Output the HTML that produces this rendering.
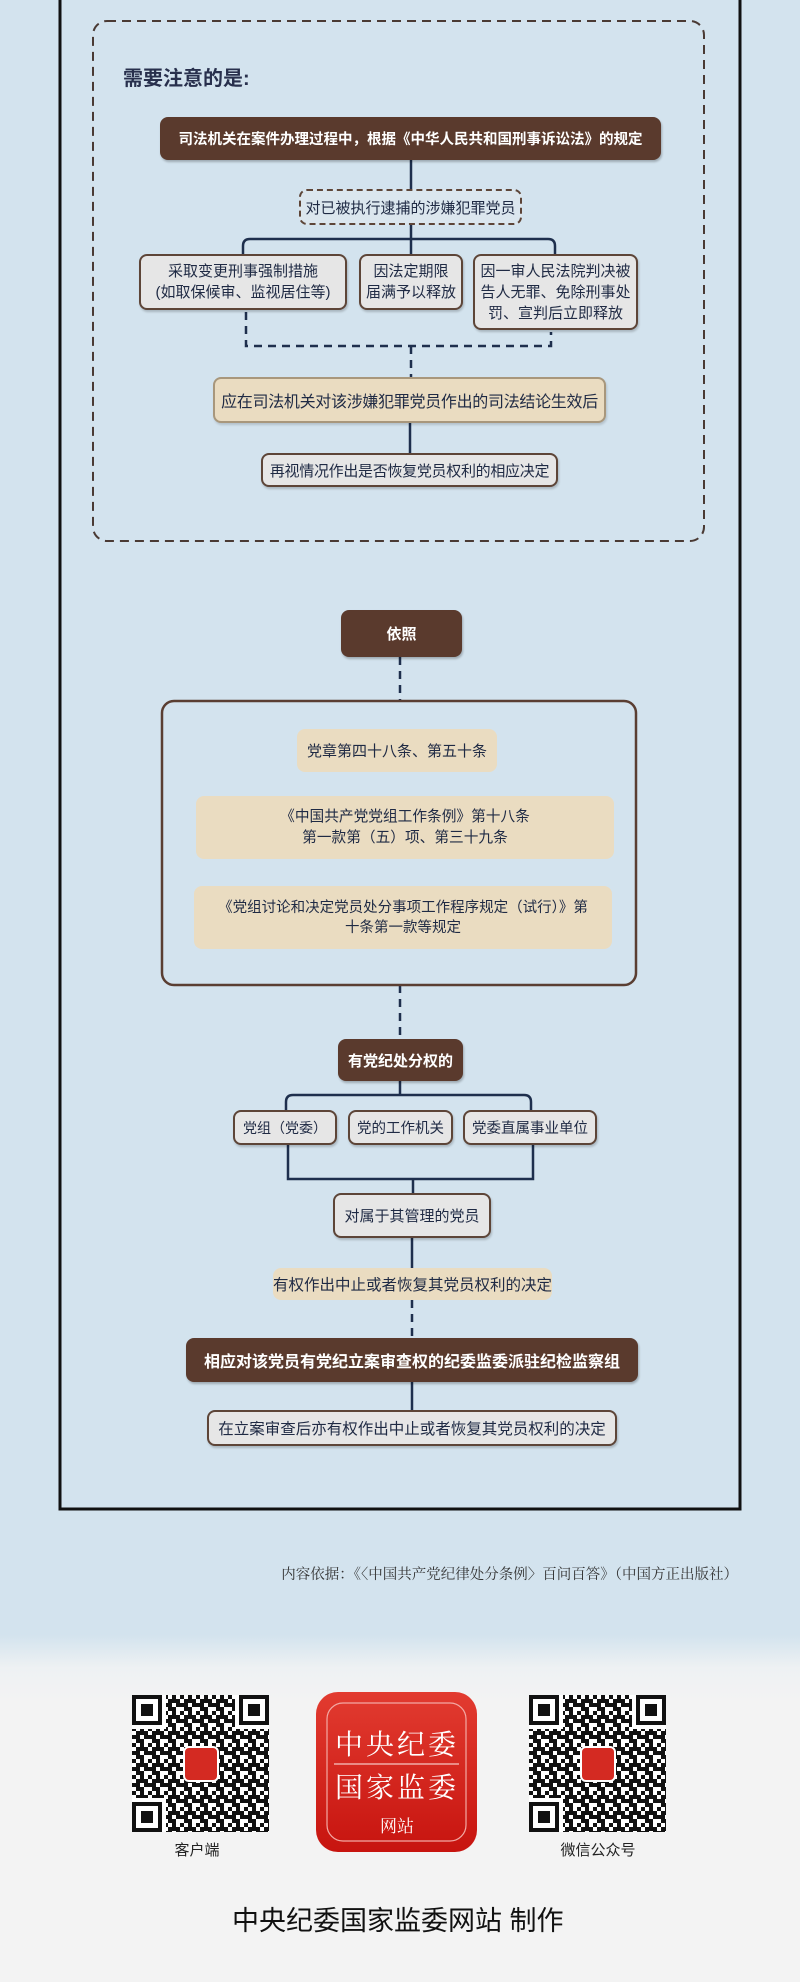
<!DOCTYPE html>
<html><head><meta charset="utf-8">
<style>
*{margin:0;padding:0;box-sizing:border-box}
body{width:800px;height:1982px;position:relative;overflow:hidden;font-family:"Liberation Sans","Noto Sans CJK SC",sans-serif;
background:linear-gradient(to bottom,#d3e3ee 0px,#d3e3ee 1635px,#eef1f3 1668px,#f3f3f3 1700px,#f3f3f3 1982px);color:#1f2a44}
.b{position:absolute;display:flex;align-items:center;justify-content:center;text-align:center;border-radius:8px;white-space:nowrap}
.br{background:#5a3a2d;color:#fff;font-weight:bold;box-shadow:1px 2px 2px rgba(0,0,0,.25)}
.gr{background:#e6e6e6;border:2px solid #5d4538;box-shadow:1px 2px 2px rgba(0,0,0,.2)}
.tn{background:#eadcc1;}
.tb{background:#eadcc1;border:2px solid #a8977c;box-shadow:1px 2px 2px rgba(0,0,0,.15)}
svg{position:absolute;left:0;top:0}
.t{position:absolute;white-space:nowrap}
</style></head><body>

<svg width="800" height="1982">
<path d="M60 0 V1509 H740 V0" fill="none" stroke="#111" stroke-width="3"/>
<rect x="93" y="21" width="611" height="520" rx="14" fill="none" stroke="#4a3a34" stroke-width="2" stroke-dasharray="9 6"/>
<g fill="none" stroke="#1e2f4d" stroke-width="2.5">
<path d="M411 160 V189"/>
<path d="M411 225 V239 M243 254 V246 Q243 239 250 239 H548 Q555 239 555 246 V254 M411 239 V254"/>
<path d="M410 423 V453"/>
<path d="M400 657 V701" stroke-dasharray="8 6"/>
<path d="M400 985 V1039" stroke-dasharray="8 6"/>
<path d="M400 1081 V1095 M286 1110 V1102 Q286 1095 293 1095 H524 Q531 1095 531 1102 V1110"/>
<path d="M288 1145 V1179 H533 V1145 M413 1179 V1193"/>
<path d="M412 1238 V1268"/>
<path d="M412 1300 V1338" stroke-dasharray="8 6"/>
<path d="M412 1382 V1410"/>
<path d="M246 312 V346 H551 V332 M411 346 V377" stroke-dasharray="8 6"/>
</g>
<rect x="162" y="701" width="474" height="284" rx="12" fill="none" stroke="#5a3e32" stroke-width="2.5"/>
</svg>

<div class="t" style="left:123px;top:62px;font-size:20px;font-weight:bold;color:#28304d">需要注意的是:</div>

<div class="b br" style="left:160px;top:117px;width:501px;height:43px;font-size:14.5px">司法机关在案件办理过程中，根据《中华人民共和国刑事诉讼法》的规定</div>
<div class="b" style="left:299px;top:189px;width:223px;height:36px;font-size:15px;border:2px dashed #5d4538;background:#dbe6ee">对已被执行逮捕的涉嫌犯罪党员</div>
<div class="b gr" style="left:139px;top:254px;width:208px;height:56px;font-size:15px;line-height:21px">采取变更刑事强制措施<br>(如取保候审、监视居住等)</div>
<div class="b gr" style="left:359px;top:254px;width:104px;height:56px;font-size:15px;line-height:21px">因法定期限<br>届满予以释放</div>
<div class="b gr" style="left:473px;top:254px;width:165px;height:76px;font-size:15px;line-height:21px">因一审人民法院判决被<br>告人无罪、免除刑事处<br>罚、宣判后立即释放</div>
<div class="b tb" style="left:213px;top:377px;width:393px;height:46px;font-size:16px;letter-spacing:-0.3px">应在司法机关对该涉嫌犯罪党员作出的司法结论生效后</div>
<div class="b gr" style="left:261px;top:453px;width:297px;height:34px;font-size:15px;letter-spacing:-0.3px">再视情况作出是否恢复党员权利的相应决定</div>

<div class="b br" style="left:341px;top:610px;width:121px;height:47px;font-size:15px">依照</div>
<div class="b tn" style="left:297px;top:729px;width:200px;height:43px;font-size:15px">党章第四十八条、第五十条</div>
<div class="b tn" style="left:196px;top:796px;width:418px;height:63px;font-size:14.7px;line-height:21px">《中国共产党党组工作条例》第十八条<br>第一款第（五）项、第三十九条</div>
<div class="b tn" style="left:194px;top:886px;width:418px;height:63px;font-size:14.5px;line-height:20px">《党组讨论和决定党员处分事项工作程序规定（试行）》第<br>十条第一款等规定</div>

<div class="b br" style="left:338px;top:1039px;width:125px;height:42px;font-size:15px">有党纪处分权的</div>
<div class="b gr" style="left:233px;top:1110px;width:104px;height:35px;font-size:14px">党组（党委）</div>
<div class="b gr" style="left:348px;top:1110px;width:105px;height:35px;font-size:14.5px">党的工作机关</div>
<div class="b gr" style="left:463px;top:1110px;width:134px;height:35px;font-size:14.5px">党委直属事业单位</div>
<div class="b gr" style="left:333px;top:1193px;width:158px;height:45px;font-size:15px">对属于其管理的党员</div>
<div class="b tn" style="left:273px;top:1268px;width:279px;height:32px;font-size:15.5px">有权作出中止或者恢复其党员权利的决定</div>
<div class="b br" style="left:186px;top:1338px;width:452px;height:44px;font-size:16px">相应对该党员有党纪立案审查权的纪委监委派驻纪检监察组</div>
<div class="b gr" style="left:207px;top:1410px;width:410px;height:36px;font-size:15.5px">在立案审查后亦有权作出中止或者恢复其党员权利的决定</div>

<div class="t" style="right:62px;top:1563px;font-size:14.5px;color:#333;font-family:'Liberation Serif','Noto Serif CJK SC',serif">内容依据：《〈中国共产党纪律处分条例〉百问百答》（中国方正出版社）</div>

<svg width="800" height="1982" style="pointer-events:none">
<defs>
<pattern id="q" width="16" height="16" patternUnits="userSpaceOnUse">
<rect width="16" height="16" fill="#fff"/>
<rect x="0" y="0" width="4" height="4" fill="#111"/><rect x="8" y="0" width="4" height="8" fill="#111"/>
<rect x="4" y="4" width="4" height="4" fill="#111"/><rect x="12" y="4" width="4" height="4" fill="#111"/>
<rect x="0" y="8" width="8" height="4" fill="#111"/><rect x="12" y="8" width="4" height="4" fill="#111"/>
<rect x="4" y="12" width="4" height="4" fill="#111"/><rect x="8" y="12" width="4" height="4" fill="#111"/>
</pattern>
<g id="qr">
<rect width="137" height="137" fill="url(#q)"/>
<g fill="#fff"><rect x="0" y="0" width="34" height="34"/><rect x="103" y="0" width="34" height="34"/><rect x="0" y="103" width="34" height="34"/></g>
<g fill="none" stroke="#111" stroke-width="4"><rect x="2" y="2" width="26" height="26"/><rect x="109" y="2" width="26" height="26"/><rect x="2" y="109" width="26" height="26"/></g>
<g fill="#111"><rect x="9" y="9" width="12" height="12"/><rect x="116" y="9" width="12" height="12"/><rect x="9" y="116" width="12" height="12"/></g>
<rect x="52" y="52" width="34" height="34" rx="5" fill="#d42a22" stroke="#fff" stroke-width="2"/>
</g>
<linearGradient id="rg" x1="0" y1="0" x2="0" y2="1"><stop offset="0" stop-color="#e23b30"/><stop offset="1" stop-color="#c7140f"/></linearGradient>
</defs>
<use href="#qr" x="132" y="1695"/>
<use href="#qr" x="529" y="1695"/>
<rect x="316" y="1692" width="161" height="160" rx="22" fill="url(#rg)"/>
<rect x="327" y="1703" width="139" height="138" rx="16" fill="none" stroke="#f3a9a4" stroke-width="1.2"/>
<line x1="334" y1="1764" x2="459" y2="1764" stroke="#f7c8c4" stroke-width="1.2"/>
<g fill="#fff" font-family="Liberation Serif,Noto Serif CJK SC,serif" text-anchor="middle">
<text x="397" y="1754" font-size="28" letter-spacing="3">中央纪委</text>
<text x="397" y="1797" font-size="28" letter-spacing="3">国家监委</text>
<text x="397" y="1832" font-size="17">网站</text>
</g>
</svg>
<div class="t" style="left:167px;top:1839px;font-size:15px;color:#222;width:60px;text-align:center">客户端</div>
<div class="t" style="left:558px;top:1839px;font-size:15px;color:#222;width:80px;text-align:center">微信公众号</div>
<div class="t" style="left:232px;top:1899px;font-size:27px;color:#111">中央纪委国家监委网站 制作</div>
</body></html>
